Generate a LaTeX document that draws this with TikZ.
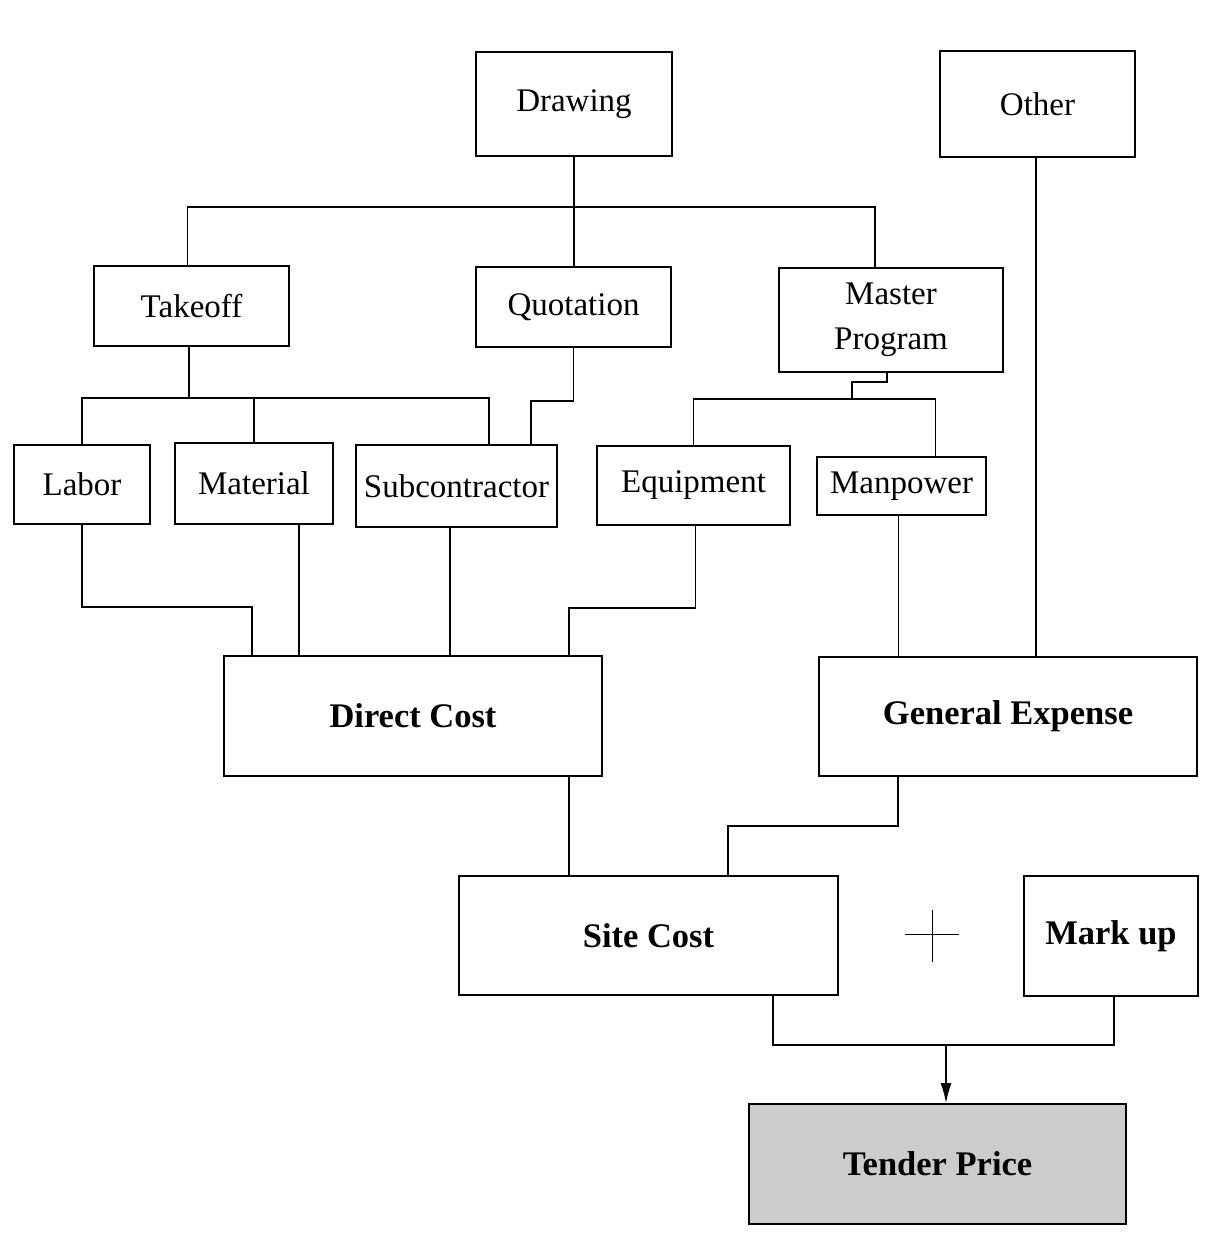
\documentclass[tikz,border=0pt]{standalone}
\usepackage{fontspec}
\setmainfont{Liberation Serif}
\usetikzlibrary{arrows.meta,calc}
\tikzset{
  box/.style={draw, line width=2pt, inner sep=0pt, align=center,
    font=\fontsize{33}{45}\selectfont},
  bbox/.style={box, font=\fontsize{34.5}{45}\selectfont\bfseries},
  conn/.style={line width=1.3pt},
}
\begin{document}
\begin{tikzpicture}[x=1pt,y=-1pt]
\useasboundingbox (0,0) rectangle (1221,1233);
% nodes
\node[box, minimum width=196, minimum height=104] (drw) at (574,104) {Drawing};
\node[box, minimum width=195, minimum height=106] (oth) at (1037.5,104) {Other};
\node[box, minimum width=195, minimum height=80] (take) at (191.5,306) {Takeoff};
\node[box, minimum width=195, minimum height=80] (quo) at (573.5,307) {Quotation};
\node[box, minimum width=224, minimum height=104] (mp) at (891,320) {Master\\Program};
\node[box, minimum width=136, minimum height=79] (lab) at (82,484.5) {Labor};
\node[box, minimum width=158, minimum height=81] (mat) at (254,483.5) {Material};
\node[box, minimum width=201, minimum height=82] (sub) at (456.5,486) {Subcontractor};
\node[box, minimum width=193, minimum height=79] (equ) at (693.5,485.5) {Equipment};
\node[box, minimum width=169, minimum height=58] (man) at (901.5,486) {Manpower};
\node[bbox, minimum width=378, minimum height=120] (dc) at (413,716) {Direct Cost};
\node[bbox, minimum width=378, minimum height=119] (ge) at (1008,716.5) {General Expense};
\node[bbox, minimum width=379, minimum height=119] (sc) at (648.5,935.5) {Site Cost};
\node[bbox, minimum width=174, minimum height=120] (mu) at (1111,936) {Mark up};
\node[bbox, minimum width=377, minimum height=120, fill=gray!40] (tp) at (937.5,1164) {Tender Price};
% plus sign
\draw[line width=1pt] (905,934) -- (959,934);
\draw[line width=1pt] (932,910) -- (932,962);
% coordinates
\coordinate (bus1) at (574,207);
\coordinate (bus2) at (189,398);
\coordinate (bus3) at (852,399);
\coordinate (join) at (946,1045);
% connectors
\draw[conn] (drw.south) -- (drw.south |- quo.north);
\draw[conn] ([xshift=-4]take.north) |- (bus1) -| ([xshift=-16]mp.north);
\draw[conn] ([xshift=-2.5]take.south) -- (bus2);
\draw[conn] (lab.north) |- (bus2) -| ([xshift=32.5]sub.north);
\draw[conn] (mat.north) -- (mat.north |- bus2);
\draw[conn] (quo.south) -- ++(0,53) -| ([xshift=74.5]sub.north);
\draw[conn] ([xshift=-4]mp.south) -- ++(0,9) -| (bus3);
\draw[conn] (equ.north) |- (bus3) -| ([xshift=34]man.north);
\draw[conn] (lab.south) -- ++(0,82) -| ([xshift=-161]dc.north);
\draw[conn] ([xshift=45]mat.south) -- ([xshift=-114]dc.north);
\draw[conn] ([xshift=-6.5]sub.south) -- ([xshift=37]dc.north);
\draw[conn] ([xshift=2]equ.south) -- ++(0,82) -| ([xshift=156]dc.north);
\draw[conn] ([xshift=-3]man.south) -- ([xshift=-109.5]ge.north);
\draw[conn] ([xshift=-1.5]oth.south) -- ([xshift=28]ge.north);
\draw[conn] ([xshift=156]dc.south) -- ([xshift=-79.5]sc.north);
\draw[conn] ([xshift=-110]ge.south) -- ++(0,49) -| ([xshift=79.5]sc.north);
\draw[conn] ([xshift=124.5]sc.south) |- (join) -| ([xshift=3]mu.south);
\draw[conn, -{Latex[length=20pt,width=11pt]}] (join) -- (join |- tp.north);
\end{tikzpicture}
\end{document}
